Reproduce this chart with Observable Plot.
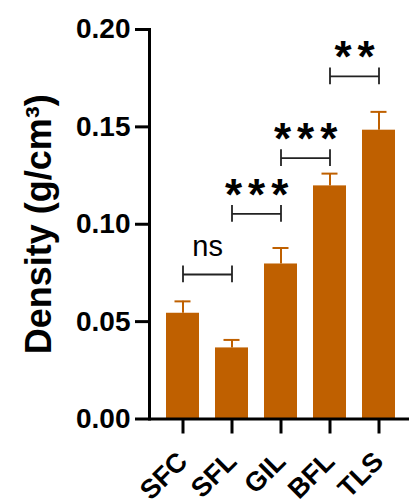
<!DOCTYPE html>
<html><head><meta charset="utf-8">
<script src="https://cdn.jsdelivr.net/npm/d3@7"></script>
<script src="https://cdn.jsdelivr.net/npm/@observablehq/plot@0.6"></script>
<style>body{margin:0;background:#fff}</style>
</head><body><div id="chart"></div>
<script>
const categories = ["SFC", "SFL", "GIL", "BFL", "TLS"];
const means = [0.0543, 0.0365, 0.0796, 0.1197, 0.1483];
const upperErr = [0.0604, 0.0406, 0.0878, 0.1260, 0.1577];
const yTicks = [0, 0.05, 0.10, 0.15, 0.20];
const bracketFrom = ["SFC", "SFL", "GIL", "BFL"];
const bracketTo = ["SFL", "GIL", "BFL", "TLS"];
const bracketY = [0.0742, 0.1053, 0.1340, 0.1759];
const bracketLabels = ["ns", "***", "***", "**"];
const yTitle = "Density (g/cm³)";

const data = categories.map((c, i) => ({cat: c, mean: means[i], upper: upperErr[i]}));
const brackets = bracketFrom.map((a, i) => ({a, b: bracketTo[i], y: bracketY[i], label: bracketLabels[i]}));
const ends = brackets.flatMap(d => [{x: d.a, y: d.y}, {x: d.b, y: d.y}]);
const color = "#bf6000";
const xRange = [149, 411];
const xPad = 0.33;
const step = d3.scaleBand().domain(categories).range(xRange).padding(xPad).step();
const half = 0.0043;
const starSpacing = 6;

const chart = Plot.plot({
  width: 409,
  height: 500,
  marginTop: 29,
  marginBottom: 81.5,
  marginLeft: 149,
  marginRight: 0,
  style: {fontFamily: "'Liberation Sans', Arial, sans-serif", color: "#000", background: "#fff"},
  x: {domain: categories, range: xRange, padding: xPad, label: null},
  y: {domain: [0, 0.2], label: null},
  marks: [
    Plot.barY(data, {x: "cat", y: "mean", fill: color}),
    Plot.ruleX(data, {x: "cat", y1: "mean", y2: "upper", stroke: color, strokeWidth: 2}),
    Plot.tickY(data, {x: "cat", y: "upper", stroke: color, strokeWidth: 2, insetLeft: 8.5, insetRight: 8.5}),
    Plot.axisY({ticks: yTicks, tickFormat: d3.format(".2f"), tickSize: 14, tickPadding: 5, fontSize: 28, fontWeight: "bold", strokeWidth: 3, label: null}),
    Plot.axisX({tickSize: 15, tickPadding: 23, tickRotate: -45, fontSize: 27, fontWeight: "bold", strokeWidth: 3, label: null}),
    Plot.ruleY([0], {stroke: "#000", strokeWidth: 3}),
    Plot.frame({anchor: "left", stroke: "#000", strokeWidth: 3}),
    Plot.link(brackets, {x1: "a", x2: "b", y1: "y", y2: "y", stroke: "#222", strokeWidth: 1.8}),
    Plot.ruleX(ends, {x: "x", y1: d => d.y - half, y2: d => d.y + half, stroke: "#222", strokeWidth: 1.8}),
    Plot.text(brackets.filter(d => d.label === "ns"), {x: "a", y: "y", dx: step / 2, dy: -18, text: "label", fontSize: 29, lineAnchor: "bottom", fill: "#000"}),
    Plot.text(brackets.filter(d => d.label !== "ns"), {x: "a", y: "y", dx: step / 2 + starSpacing / 2, dy: -4, text: "label", fontSize: 44, fontWeight: "bold", lineAnchor: "bottom", fill: "#000"}),
    Plot.text([yTitle], {frameAnchor: "left", textAnchor: "middle", rotate: -90, dx: -99, fontSize: 36, fontWeight: "bold", lineAnchor: "bottom", fill: "#000"})
  ]
});
d3.select(chart).selectAll("text")
  .filter(function() { return /^\*+$/.test(this.textContent); })
  .attr("letter-spacing", starSpacing)
  .style("letter-spacing", starSpacing + "px");
document.getElementById("chart").appendChild(chart);
</script>
</body></html>
